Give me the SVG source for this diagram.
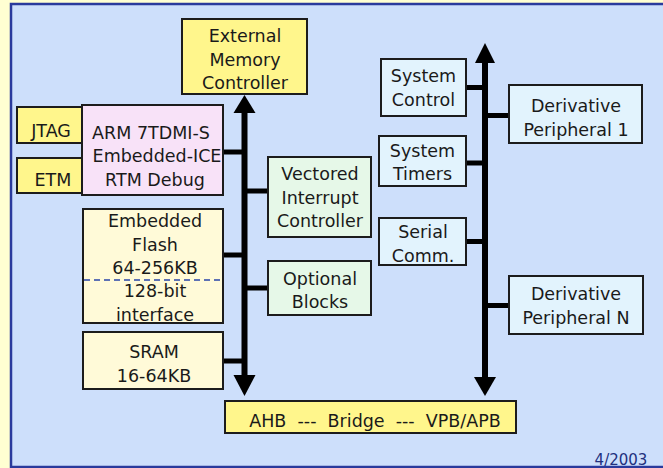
<svg xmlns="http://www.w3.org/2000/svg" width="663" height="468" viewBox="0 0 663 468">
  <style>
    .box { stroke: #1c1c1c; stroke-width: 2; }
    .yellow { fill: #fff68c; }
    .pink { fill: #f8e2f8; }
    .cream { fill: #fffad8; }
    .green { fill: #e6f8e8; }
    .blue { fill: #e2f3fd; }
    text { font-family: "DejaVu Sans", "Liberation Sans", sans-serif; font-size: 17.5px; fill: #1a1a1a; text-anchor: middle; }
    .bus { stroke: #000; stroke-width: 6; fill: none; }
    .tap { stroke: #000; stroke-width: 5; fill: none; }
    .head { fill: #000; }
  </style>

  <!-- page and panel -->
  <rect x="0" y="0" width="663" height="468" fill="#ffffd2"/>
  <rect x="11" y="4" width="664" height="463" fill="#cddffb" stroke="#2a3a9c" stroke-width="2.5"/>

  <!-- buses and taps -->
  <g id="connectors">
    <line class="bus" x1="244.5" y1="110" x2="244.5" y2="378"/>
    <polygon class="head" points="244.5,95 255.5,113 233.5,113"/>
    <polygon class="head" points="244.5,396 255.5,375 233.5,375"/>
    <line class="bus" x1="485" y1="60" x2="485" y2="380" stroke-width="5"/>
    <polygon class="head" points="485,43 495,63 475,63"/>
    <polygon class="head" points="485,396 496,377 474,377"/>

    <line class="tap" x1="222" y1="152" x2="244" y2="152" stroke-width="6"/>
    <line class="tap" x1="244" y1="191" x2="268" y2="191" stroke-width="6"/>
    <line class="tap" x1="222" y1="255" x2="244" y2="255" stroke-width="4"/>
    <line class="tap" x1="244" y1="288" x2="268" y2="288" stroke-width="6"/>
    <line class="tap" x1="222" y1="361" x2="244" y2="361"/>

    <line class="tap" x1="466" y1="87.5" x2="485" y2="87.5"/>
    <line class="tap" x1="485" y1="115.5" x2="509" y2="115.5"/>
    <line class="tap" x1="466" y1="163" x2="485" y2="163"/>
    <line class="tap" x1="466" y1="241.5" x2="485" y2="241.5"/>
    <line class="tap" x1="485" y1="305.5" x2="509" y2="305.5"/>
  </g>

  <g id="emc">
    <rect class="box yellow" x="182" y="19" width="125" height="75"/>
    <text x="245" y="41.5">External</text>
    <text x="245" y="65.5">Memory</text>
    <text x="245" y="88.5">Controller</text>
  </g>

  <g id="jtag">
    <rect class="box yellow" x="17" y="107" width="66" height="36"/>
    <text x="51" y="137">JTAG</text>
  </g>

  <g id="etm">
    <rect class="box yellow" x="17" y="158" width="66" height="35"/>
    <text x="53" y="185.5">ETM</text>
  </g>

  <g id="arm">
    <rect class="box pink" x="82" y="105" width="141" height="90"/>
    <text x="151" y="139">ARM 7TDMI-S</text>
    <text x="157" y="162">Embedded-ICE</text>
    <text x="155" y="186">RTM Debug</text>
  </g>

  <g id="vic">
    <rect class="box green" x="268" y="157" width="103" height="80"/>
    <text x="320" y="180">Vectored</text>
    <text x="320" y="204">Interrupt</text>
    <text x="320" y="227">Controller</text>
  </g>

  <g id="flash">
    <rect class="box cream" x="83" y="209" width="140" height="114"/>
    <line x1="84" y1="280" x2="222" y2="280" stroke="#2844a8" stroke-width="1.5" stroke-dasharray="6 4"/>
    <text x="155" y="227">Embedded</text>
    <text x="155" y="251">Flash</text>
    <text x="155" y="274">64-256KB</text>
    <text x="155" y="297">128-bit</text>
    <text x="155" y="321">interface</text>
  </g>

  <g id="optional">
    <rect class="box green" x="268" y="261" width="103" height="54"/>
    <text x="320" y="285">Optional</text>
    <text x="320" y="308">Blocks</text>
  </g>

  <g id="sram">
    <rect class="box cream" x="83" y="332" width="140" height="57"/>
    <text x="154" y="358">SRAM</text>
    <text x="154" y="382">16-64KB</text>
  </g>

  <g id="bridge">
    <rect class="box yellow" x="225" y="401" width="291" height="32"/>
    <text x="375" y="427" xml:space="preserve">AHB  ---  Bridge  ---  VPB/APB</text>
  </g>

  <g id="sysctrl">
    <rect class="box blue" x="381" y="59" width="85" height="57"/>
    <text x="423.5" y="82">System</text>
    <text x="423.5" y="106">Control</text>
  </g>

  <g id="timers">
    <rect class="box blue" x="379" y="136" width="87" height="50"/>
    <text x="422.5" y="157">System</text>
    <text x="422.5" y="180">Timers</text>
  </g>

  <g id="serial">
    <rect class="box blue" x="379" y="218" width="87" height="47"/>
    <text x="423" y="238">Serial</text>
    <text x="423" y="262">Comm.</text>
  </g>

  <g id="periph1">
    <rect class="box blue" x="509" y="85" width="133" height="58"/>
    <text x="576" y="112">Derivative</text>
    <text x="576" y="136">Peripheral 1</text>
  </g>

  <g id="periphN">
    <rect class="box blue" x="509" y="276" width="134" height="58"/>
    <text x="576" y="300">Derivative</text>
    <text x="576" y="324">Peripheral N</text>
  </g>

  <text x="621" y="464.5" style="font-size:15px; fill:#22307e;">4/2003</text>
</svg>
